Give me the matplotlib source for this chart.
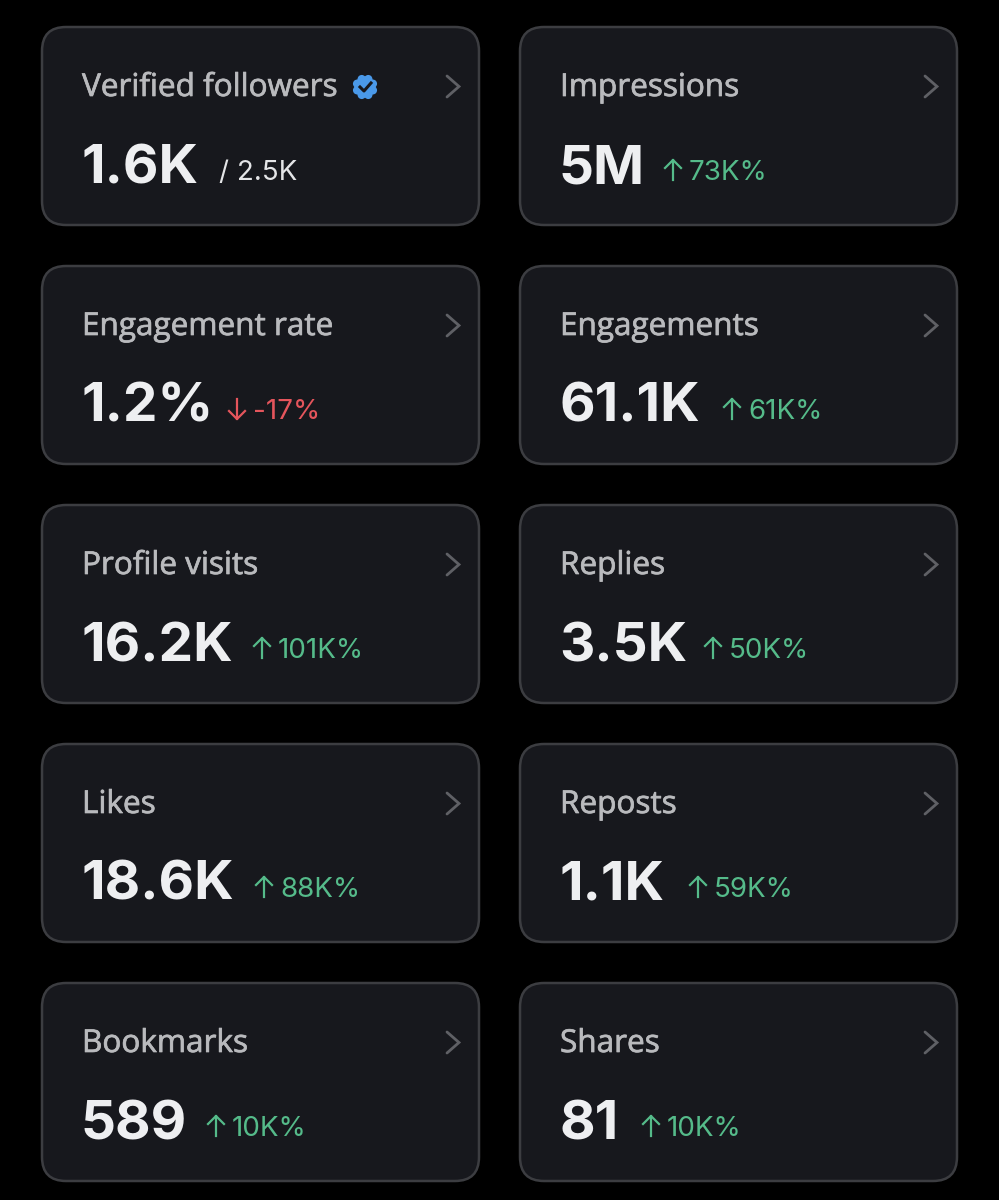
import numpy as np
import matplotlib
matplotlib.use("Agg")
import matplotlib.pyplot as plt
import matplotlib.patheffects as pe
from matplotlib.patches import FancyBboxPatch, Circle

labels = ["Verified followers", "Impressions", "Engagement rate", "Engagements",
          "Profile visits", "Replies", "Likes", "Reposts", "Bookmarks", "Shares"]
values = ["1.6K", "5M", "1.2%", "61.1K", "16.2K", "3.5K", "18.6K", "1.1K", "589", "81"]
changes = ["/ 2.5K", "73K%", "-17%", "61K%", "101K%", "50K%", "88K%", "59K%", "10K%", "10K%"]
directions = ["none", "up", "down", "up", "up", "up", "up", "up", "up", "up"]
# x pixel where the change text starts
change_x = [219, 664, 228, 723, 253, 704, 255, 689, 207, 642]

GREEN = '#55bb8a'
RED = '#e5555c'

fig = plt.figure(figsize=(9.99, 12), dpi=100, facecolor='black')
ax = fig.add_axes([0, 0, 1, 1])
ax.set_xlim(0, 999)
ax.set_ylim(1200, 0)
ax.axis('off')

for i, label in enumerate(labels):
    col = i % 2
    row = i // 2
    x0 = 42 + col * 478
    y0 = 27 + row * 239

    ax.add_patch(FancyBboxPatch((x0, y0), 437, 198, boxstyle="round,pad=0,rounding_size=24",
                                fc='#17181d', ec='#3c3d41', lw=1.8))
    # Open Sans has no medium here, a thin stroke thickens it
    ax.text(x0 + 40, y0 + 69, label, color='#b9babd', fontsize=22.7, family='Open Sans', va='baseline',
            path_effects=[pe.withStroke(linewidth=0.5, foreground='#b9babd')])
    ax.text(x0 + 39, y0 + 156, values[i], color='#eeeff1', fontsize=39.5, family='Inter',
            fontweight='bold', va='baseline')

    # chevron
    ax.plot([x0 + 405, x0 + 417, x0 + 405], [y0 + 49, y0 + 59.5, y0 + 70], color='#5f6065', lw=2,
            solid_capstyle='round', solid_joinstyle='miter')

    cx = change_x[i]
    base = y0 + 153
    if directions[i] == "none":
        ax.text(cx, base, changes[i], color='#e4e5e7', fontsize=20, family='Inter', va='baseline')
    else:
        color = GREEN if directions[i] == "up" else RED
        head, tail = (base - 20, base) if directions[i] == "up" else (base, base - 20)
        wing = 8 if directions[i] == "up" else -8
        ax.plot([cx + 9, cx + 9], [head, tail], color=color, lw=1.6)
        ax.plot([cx + 1, cx + 9, cx + 17], [head + wing, head, head + wing], color=color, lw=1.6)
        ax.text(cx + 25, base, changes[i], color=color, fontsize=20, family='Inter', va='baseline')

# verified badge next to the first label
ax.add_patch(Circle((365, 87), 10.5, fc='#4a99e9', ec='none'))
for a in np.arange(8) * np.pi / 4 + np.pi / 8:
    ax.add_patch(Circle((365 + 8.5 * np.cos(a), 87 + 8.5 * np.sin(a)), 4.2, fc='#4a99e9', ec='none'))
ax.plot([360, 364, 371], [87, 91, 83], color='#17181d', lw=2.2)

fig.savefig('out.png', dpi=100, facecolor='black')
